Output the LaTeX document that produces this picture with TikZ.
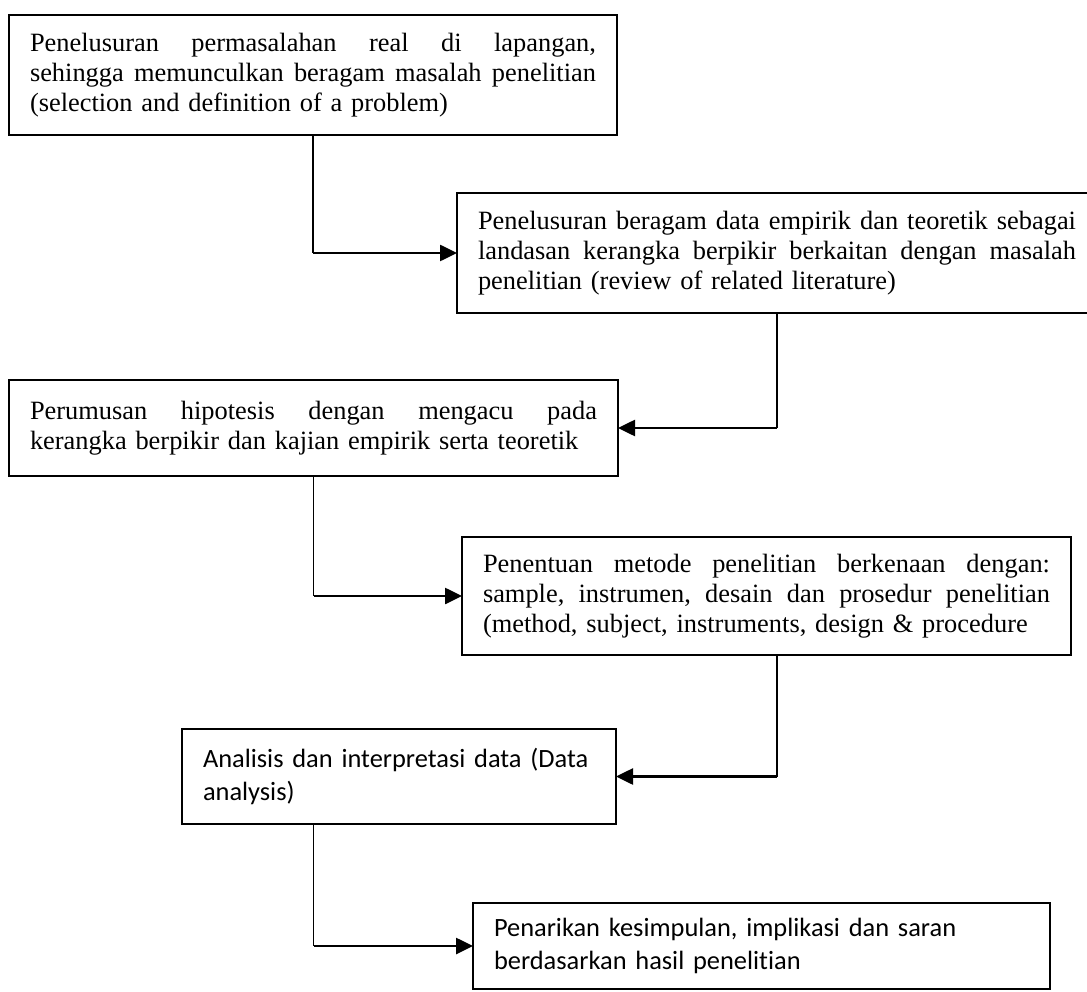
\documentclass[tikz,border=0pt]{standalone}
\usepackage{fontspec}
\setmainfont[Ligatures=NoCommon]{Liberation Serif}
\newfontfamily\calibrifont[Ligatures=NoCommon]{Carlito}
\usetikzlibrary{arrows.meta}
\newcommand\jl[2]{\leavevmode\hbox to #1{#2}}
\newcommand\gap{\hskip 6pt plus 1fill\relax}
\begin{document}
\begin{tikzpicture}[x=1pt,y=-1pt,
  box/.style={draw, line width=1.6pt, anchor=north west, inner xsep=21pt, inner ysep=0pt,
    outer sep=0pt, font=\fontsize{26.4}{30.3}\selectfont},
  sbox/.style={box, align=left, font=\calibrifont\fontsize{26.4}{32.5}\selectfont},
  conn/.style={line width=1.6pt},
  arr/.style={line width=2.6pt, -{Triangle[length=17pt,width=16pt]}}]
\useasboundingbox[fill=white] (0,0) rectangle (1087,992);

\node[box, text width=566pt, minimum height=120pt] (b1) at (9,15) {%
\jl{566pt}{Penelusuran\gap permasalahan\gap real\gap di\gap lapangan,}\\
\jl{566pt}{sehingga\gap memunculkan\gap beragam\gap masalah\gap penelitian}\\
(selection and definition of a problem)};

\node[box, text width=598pt, minimum height=120pt] (b2) at (457,193) {%
\jl{598pt}{Penelusuran\gap beragam\gap data\gap empirik\gap dan\gap teoretik\gap sebagai}\\
\jl{598pt}{landasan\gap kerangka\gap berpikir\gap berkaitan\gap dengan\gap masalah}\\
penelitian (review of related literature)};

\node[box, text width=567pt, minimum height=96pt] (b3) at (9,380) {%
\jl{567pt}{Perumusan\gap hipotesis\gap dengan\gap mengacu\gap pada}\\
kerangka berpikir dan kajian empirik serta teoretik};

\node[box, text width=567pt, minimum height=118pt] (b4) at (462,537) {%
\jl{567pt}{Penentuan\gap metode\gap penelitian\gap berkenaan\gap dengan:}\\
\jl{567pt}{sample,\gap instrumen,\gap desain\gap dan\gap prosedur\gap penelitian}\\
(method, subject, instruments, design \& procedure};

\node[sbox, text width=392pt, minimum height=95pt] (b5) at (182,729) {%
Analisis dan interpretasi data (Data\\
analysis)};

\node[sbox, text width=535pt, minimum height=86pt] (b6) at (473,903) {%
Penarikan kesimpulan, implikasi dan saran\\
berdasarkan hasil penelitian};

% connectors
\draw[conn] (b1.south) -- (b1.south |- b2.west);
\draw[arr] (b1.south |- b2.west) -- (b2.west);

\draw[conn] (b2.south) -- (b2.south |- b3.east);
\draw[arr] (b2.south |- b3.east) -- (b3.east);

\draw[conn] (b3.south) -- (b3.south |- b4.west);
\draw[arr] (b3.south |- b4.west) -- (b4.west);

\draw[conn] (b4.south -| b2.south) -- (b2.south |- b5.east);
\draw[arr] (b2.south |- b5.east) -- (b5.east);

\draw[conn] (b5.south -| b3.south) -- (b3.south |- b6.west);
\draw[arr] (b3.south |- b6.west) -- (b6.west);
\end{tikzpicture}
\end{document}
